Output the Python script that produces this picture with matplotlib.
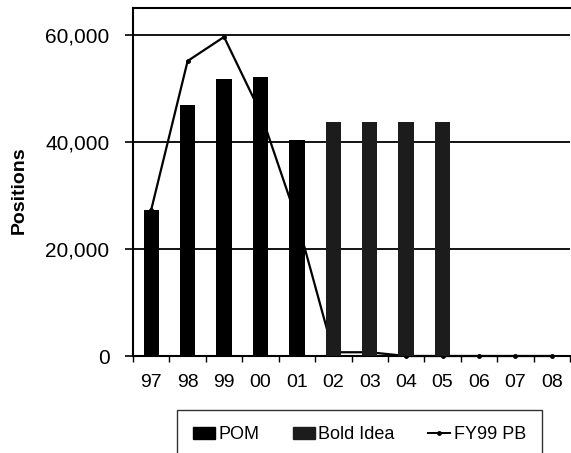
import numpy as np
import matplotlib.pyplot as plt
from matplotlib.ticker import FuncFormatter, FixedLocator
from matplotlib.patches import Patch
from matplotlib.lines import Line2D

plt.rcParams['font.family'] = ['Liberation Sans', 'DejaVu Sans']

# Данные
years = ['97', '98', '99', '00', '01', '02', '03', '04', '05', '06', '07', '08']
pom = [27300, 46800, 51800, 52200, 40400, 0, 0, 0, 0, 0, 0, 0]
bold_idea = [0, 0, 0, 0, 0, 43700, 43700, 43700, 43700, 0, 0, 0]
fy99_pb = [27300, 55100, 59600, 45500, 25500, 700, 700, 0, 0, 0, 0, 0]

narrow = ['Liberation Sans Narrow', 'Liberation Sans', 'DejaVu Sans']

fig = plt.figure(figsize=(5.71, 4.53), dpi=100)
ax = fig.add_axes([133 / 571, 1 - 356 / 453, (570 - 133) / 571, (356 - 8) / 453])

x = np.arange(len(years))
w = 0.42

# Линия под столбцами
ax.plot(x, fy99_pb, color='black', lw=1.6, marker='o', markersize=2.5, zorder=2, clip_on=False)
ax.bar(x, pom, width=w, color='black', zorder=3)
ax.bar(x, bold_idea, width=w, color='#1c1c1c', zorder=3)

ax.set_xlim(-0.5, len(years) - 0.5)
ax.set_ylim(0, 65000)

# Сетка
for g in [20000, 40000, 60000]:
    ax.axhline(g, color='black', lw=1.3, zorder=1)

ax.set_yticks([0, 20000, 40000, 60000])
ax.yaxis.set_major_formatter(FuncFormatter(lambda v, p: f'{int(v):,}'))
ax.tick_params(axis='y', direction='out', length=6, width=1.2, labelsize=15, pad=11)

ax.set_xticks(x)
ax.set_xticklabels(years, family=narrow, fontsize=14)
ax.xaxis.set_minor_locator(FixedLocator(np.arange(-0.5, len(years), 1)))
ax.tick_params(axis='x', which='major', length=0, pad=13)
ax.tick_params(axis='x', which='minor', direction='out', length=4, width=1)

ax.spines['right'].set_visible(False)
for s in ['top', 'left', 'bottom']:
    ax.spines[s].set_linewidth(1.5)

fig.text(19 / 571, 1 - 190 / 453, 'Positions', rotation=90, fontsize=14,
         fontweight='bold', ha='center', va='center')

handles = [Patch(facecolor='black', edgecolor='black'),
           Patch(facecolor='#1c1c1c', edgecolor='#1c1c1c'),
           Line2D([], [], color='black', lw=1.4, marker='o', markersize=2.5)]
leg = fig.legend(handles, ['POM', 'Bold Idea', 'FY99 PB'], ncol=3,
                 loc='upper left', bbox_to_anchor=(177 / 571, 0, (542 - 177) / 571, 1 - 410 / 453),
                 mode='expand', frameon=True, fancybox=False, edgecolor='black',
                 prop={'family': narrow, 'size': 13}, handlelength=1.2, handletextpad=0.2,
                 borderpad=0.9, columnspacing=1.5, borderaxespad=0)
leg.get_frame().set_linewidth(1.0)

fig.savefig('out.png', dpi=100)
